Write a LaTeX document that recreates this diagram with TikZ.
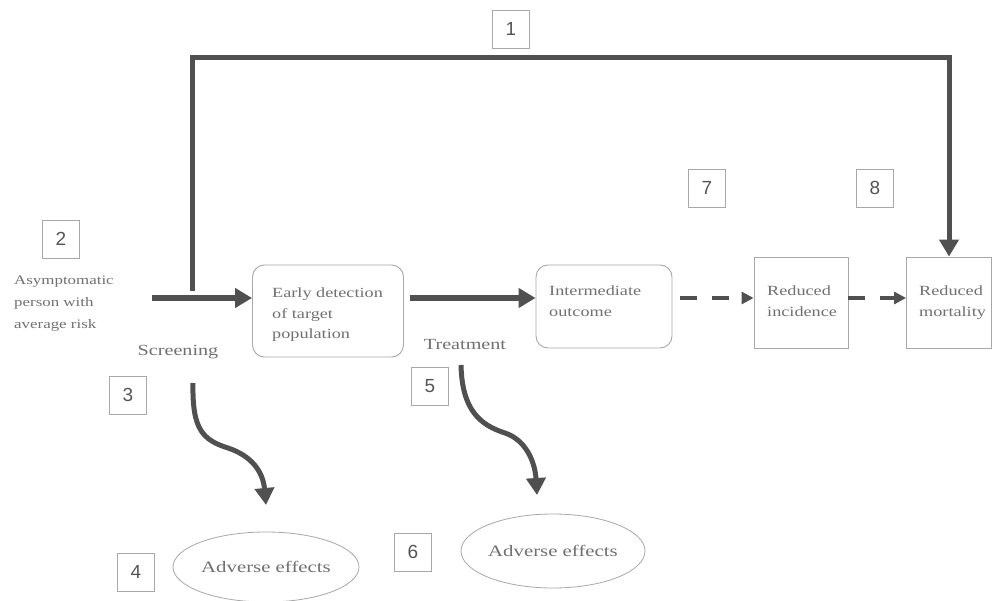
\documentclass[tikz,border=0pt]{standalone}
\usepackage{fontspec}
\setmainfont{Liberation Serif}
\newfontfamily\widefont[FakeStretch=1.3]{Liberation Serif}
\newfontfamily\numfont{Liberation Sans}
\usetikzlibrary{arrows.meta,shapes.geometric}
\definecolor{arrowgray}{HTML}{505050}
\definecolor{boxgray}{HTML}{A8A8A8}
\definecolor{txtgray}{HTML}{707070}
\definecolor{numgray}{HTML}{555555}
\tikzset{
  numbox/.style={draw=boxgray, line width=0.8pt, minimum width=37pt, minimum height=38pt, inner sep=0pt, text=numgray, font=\numfont\fontsize{19}{19}\selectfont},
  rbox/.style={draw=boxgray, line width=0.9pt, rounded corners=12pt, inner sep=0pt},
  sbox/.style={draw=boxgray, line width=0.9pt, inner sep=0pt},
  btxt/.style={inner sep=0pt, anchor=north west, align=left, text=txtgray, font=\widefont\fontsize{14}{20.5}\selectfont},
  ltxt/.style={inner sep=0pt, text=txtgray, font=\widefont\fontsize{15.5}{18}\selectfont},
  ellbox/.style={draw=boxgray, line width=0.8pt, ellipse, inner sep=0pt, text=txtgray, font=\widefont\fontsize{16}{18}\selectfont},
  bigarrow/.style={draw=arrowgray, line width=5pt, -{Triangle[length=17pt,width=19pt]}},
  bigline/.style={draw=arrowgray, line width=5pt},
  dasharrow/.style={draw=arrowgray, line width=3pt, dash pattern=on 17pt off 15pt, -{Triangle[length=12pt,width=12pt]}}
}
\begin{document}
\begin{tikzpicture}[x=1pt,y=-1pt]
\useasboundingbox[fill=white] (0,0) rectangle (992,601);

% numbered boxes
\node[numbox] (n1) at (511,29) {1};
\node[numbox] (n2) at (61,239) {2};
\node[numbox] (n3) at (128,395) {3};
\node[numbox] (n4) at (136,572) {4};
\node[numbox] (n5) at (430,386) {5};
\node[numbox] (n6) at (413,552) {6};
\node[numbox] (n7) at (707,188) {7};
\node[numbox] (n8) at (875,188) {8};

% left text
\node[inner sep=0pt, anchor=north west, align=left, text=txtgray, font=\widefont\fontsize{13}{22}\selectfont] (asym) at (14,276) {Asymptomatic\\person with\\average risk};
\node[ltxt] (scr) at (178,352) {Screening};
\node[ltxt] (trt) at (465,344) {Treatment};

% main boxes
\node[rbox, minimum width=151pt, minimum height=92pt] (ed) at (328,311) {};
\node[btxt] (edt) at (272,288) {Early detection\\of target\\population};
\node[rbox, minimum width=136pt, minimum height=83pt] (io) at (604,306.5) {};
\node[btxt] (iot) at (549,286) {Intermediate\\outcome};
\node[sbox, minimum width=94pt, minimum height=91pt] (ri) at (801,302.5) {};
\node[btxt] (rit) at (767,286) {Reduced\\incidence};
\node[sbox, minimum width=85pt, minimum height=91pt] (rm) at (949,302.5) {};
\node[btxt] (rmt) at (919,286) {Reduced\\mortality};

% ellipses
\node[ellbox, minimum width=186pt, minimum height=70pt] (ae1) at (266,567) {Adverse effects};
\node[ellbox, minimum width=184pt, minimum height=74pt] (ae2) at (553,551) {Adverse effects};

% coordinates
\coordinate (start) at (152,298);
\coordinate (vbot) at (192,291);
\coordinate (w1s) at (193,383);
\coordinate (w1m) at (228,448);
\coordinate (w1e) at (266,505);
\coordinate (w2s) at (461,365);
\coordinate (w2m) at (505,433);
\coordinate (w2e) at (537,495);

% connectors
\draw[bigarrow] (start) -- (ed.west |- start);
\draw[bigarrow] (ed.east |- start) ++(6,0) -- (io.west |- start);
\draw[dasharrow] (io.east |- start) ++(8,0) -- (ri.west |- start);
\draw[dasharrow] (ri.east |- start) -- (rm.west |- start);
\draw[bigline, line join=miter] (vbot) |- (rm.north |- 0,58) -- (rm.north |- 0,60);
\draw[bigarrow] (rm.north |- 0,56) -- (rm.north);

\draw[bigarrow] (w1s) .. controls (192,430) and (203,440) .. (w1m) .. controls (252,456) and (263,472) .. (w1e);
\draw[bigarrow] (w2s) .. controls (462,410) and (480,425) .. (w2m) .. controls (526,440) and (535,462) .. (w2e);
\end{tikzpicture}
\end{document}
